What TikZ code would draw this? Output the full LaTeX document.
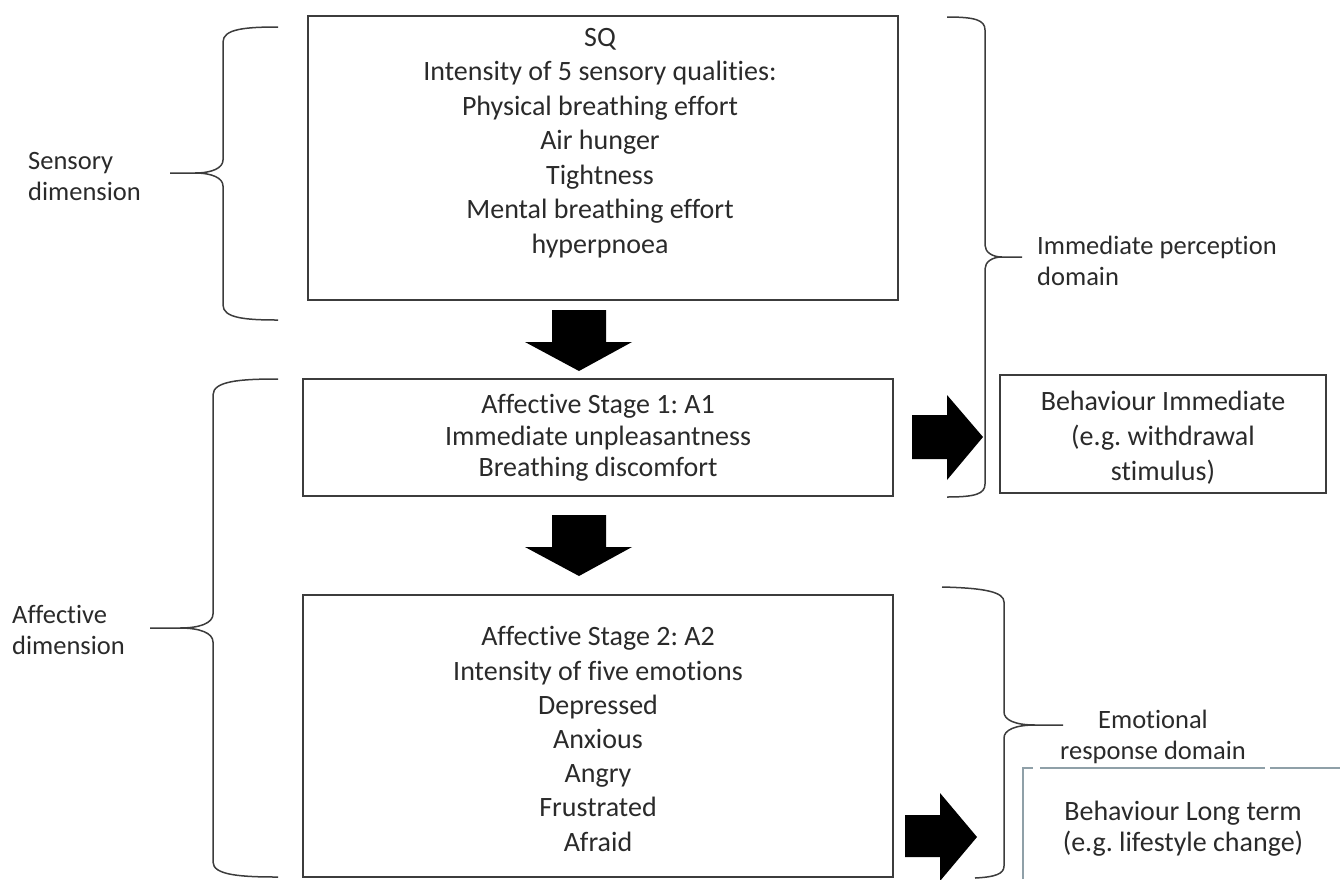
\documentclass[tikz,border=0pt]{standalone}
\usepackage{fontspec}
\setmainfont{Carlito}[Ligatures={NoCommon}]
\frenchspacing
\definecolor{ln}{HTML}{3C3C3C}
\definecolor{tx}{HTML}{2A2A2A}
\definecolor{lb}{HTML}{8FA0A8}
\tikzset{
  box/.style={draw=ln, line width=1.6pt, rectangle, inner sep=0pt},
  txt/.style={text=tx, align=center, inner sep=0pt, font=\fontsize{28}{34.5}\selectfont},
  lbl/.style={text=tx, inner sep=0pt, font=\fontsize{26.5}{31}\selectfont},
  brace/.style={draw=ln, line width=1.5pt},
  blk/.style={fill=black},
  faint/.style={draw=lb, line width=1.5pt}
}
\begin{document}
\begin{tikzpicture}[x=1pt,y=-1pt]
\useasboundingbox (0,0) rectangle (1340,879);

% boxes
\node[box, minimum width=590, minimum height=284] (sq) at (603,158) {};
\node[box, minimum width=590, minimum height=117] (a1) at (598,437.5) {};
\node[box, minimum width=590, minimum height=282] (a2) at (598,736) {};
\node[box, minimum width=326, minimum height=118] (bi) at (1163,434) {};

% partially visible box
\coordinate (ltA) at (1023,879);
\coordinate (ltB) at (1023,768);
\draw[faint] (ltA) -- (ltB) -- (1033,768);
\draw[faint] (1040,768) -- (1265,768);
\draw[faint] (1270,768) -- (1340,768);

% box texts
\node[txt] (sqt) at (600,143) {SQ\\Intensity of 5 sensory qualities:\\Physical breathing effort\\Air hunger\\Tightness\\Mental breathing effort\\hyperpnoea};
\node[txt, font=\fontsize{28}{31.5}\selectfont] (a1t) at (598,438) {Affective Stage 1: A1\\Immediate unpleasantness\\Breathing discomfort};
\node[txt, font=\fontsize{28}{34.2}\selectfont] (a2t) at (598,739) {Affective Stage 2: A2\\Intensity of five emotions\\Depressed\\Anxious\\Angry\\Frustrated\\Afraid};
\node[txt, font=\fontsize{28}{35}\selectfont] (bit) at (1163,438) {Behaviour Immediate\\(e.g. withdrawal\\stimulus)};
\node[txt, font=\fontsize{28}{31}\selectfont] (ltt) at (1183,829) {Behaviour Long term\\(e.g. lifestyle change)};

% side labels
\node[lbl, align=left, anchor=west] (sens) at (28,176) {Sensory\\dimension};
\node[lbl, align=left, anchor=west] (aff) at (12,630) {Affective\\dimension};
\node[lbl, align=left, anchor=west] (imm) at (1037,261) {Immediate perception\\domain};
\node[lbl, align=center] (emo) at (1153,737) {Emotional\\response domain};

% block arrows
\fill[blk] (552,310) -- (606,310) -- (606,342) -- (632,342) -- (579,371) -- (525,342) -- (552,342) -- cycle;
\fill[blk] (552,515) -- (606,515) -- (606,547) -- (632,547) -- (579,576) -- (525,547) -- (552,547) -- cycle;
\fill[blk] (912,415) -- (947,415) -- (947,395) -- (983,437) -- (947,480) -- (947,459) -- (912,459) -- cycle;
\fill[blk] (905,815) -- (940,815) -- (940,793) -- (977,837) -- (940,881) -- (940,857) -- (905,857) -- cycle;

% braces
\draw[brace] (278,27) .. controls (245,27) and (223,29) .. (223,42) -- (223,160)
  .. controls (223,168) and (212,173) .. (195,173) -- (170,173);
\draw[brace] (195,173) .. controls (212,173) and (223,178) .. (223,186) -- (223,305)
  .. controls (223,318) and (245,320) .. (278,320);

\draw[brace] (278,379) .. controls (240,379) and (213,381) .. (213,395) -- (213,614)
  .. controls (213,623) and (200,628) .. (180,628) -- (150,628);
\draw[brace] (180,628) .. controls (200,628) and (213,633) .. (213,642) -- (213,862)
  .. controls (213,875) and (240,877) .. (278,877);

\draw[brace] (947,17) .. controls (975,17) and (985,20) .. (985,30) -- (985,245)
  .. controls (985,252) and (992,257) .. (1002,257) -- (1022,257);
\draw[brace] (1002,257) .. controls (992,257) and (985,262) .. (985,269) -- (985,484)
  .. controls (985,494) and (975,497) .. (947,497);

\draw[brace] (942,587) .. controls (985,588) and (1004,592) .. (1004,602) -- (1004,712)
  .. controls (1004,720) and (1015,725) .. (1035,725) -- (1063,725);
\draw[brace] (1035,725) .. controls (1015,725) and (1004,730) .. (1004,738) -- (1004,866)
  .. controls (1004,874) and (995,877) .. (975,878);
\end{tikzpicture}
\end{document}
